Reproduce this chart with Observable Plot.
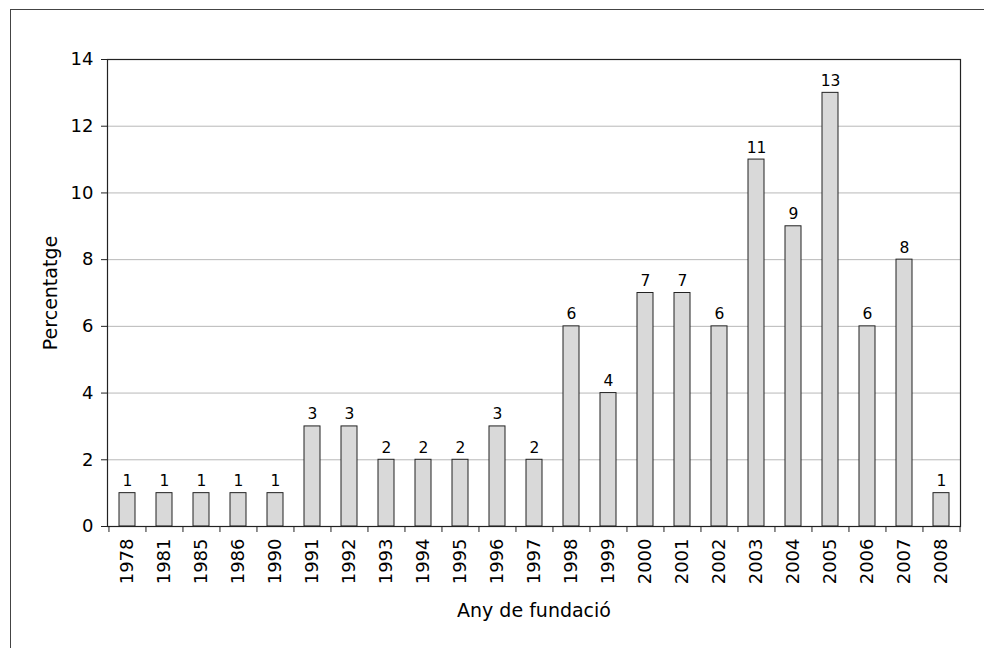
<!DOCTYPE html>
<html>
<head>
<meta charset="utf-8">
<script src="https://cdn.jsdelivr.net/npm/d3@7"></script>
<script src="https://cdn.jsdelivr.net/npm/@observablehq/plot@0.6"></script>
<style>
  html, body { margin: 0; padding: 0; background: #fff; }
  #wrap { position: relative; width: 984px; height: 648px; overflow: hidden; }
  #border { position: absolute; left: 10px; top: 9px; width: 1000px; height: 700px; border: 1.5px solid #444; pointer-events: none; }
  svg { font-family: "DejaVu Sans", sans-serif; }
</style>
</head>
<body>
<div id="wrap"><div id="border"></div><div id="chart"></div></div>
<script>
const years = ["1978","1981","1985","1986","1990","1991","1992","1993","1994","1995","1996","1997","1998","1999","2000","2001","2002","2003","2004","2005","2006","2007","2008"];
const values = [1,1,1,1,1,3,3,2,2,2,3,2,6,4,7,7,6,11,9,13,6,8,1];
const yTicks = [0,2,4,6,8,10,12,14];
const gridTicks = [2,4,6,8,10,12];
const yLabel = "Percentatge";
const xLabel = "Any de fundació";

const data = years.map((y, i) => ({year: y, value: values[i]}));

const W = 984, H = 648, mL = 107, mR = 24, mT = 59, mB = 122;
const step = (W - mL - mR) / years.length;

const chart = Plot.plot({
  width: W,
  height: H,
  marginLeft: mL,
  marginRight: mR,
  marginTop: mT,
  marginBottom: mB,
  style: {fontFamily: "DejaVu Sans, sans-serif", color: "#000", background: "transparent"},
  x: {domain: years, padding: 0.58, paddingOuter: 0.29},
  y: {domain: [0, 14]},
  marks: [
    Plot.ruleY(gridTicks, {stroke: "#b8b8b8", strokeWidth: 1}),
    Plot.barY(data, {x: "year", y: "value", fill: "#d9d9d9", stroke: "#222", strokeWidth: 1}),
    Plot.text(data, {x: "year", y: "value", text: d => String(d.value), lineAnchor: "bottom", dy: -7, fontSize: 15.5, fill: "#000"}),
    Plot.axisY({ticks: yTicks, tickSize: 6, tickPadding: 8, fontSize: 18, stroke: "#222", label: null, fill: "#000"}),
    Plot.axisX({tickSize: 0, tickRotate: -90, tickPadding: 12, fontSize: 18, label: null, fill: "#000"}),
    Plot.axisX({tickSize: 6, tickFormat: null, dx: -step / 2, stroke: "#222", label: null}),
    Plot.axisX([years[years.length - 1]], {tickSize: 6, tickFormat: null, dx: step / 2, stroke: "#222", label: null}),
    Plot.text([yLabel], {frameAnchor: "left", rotate: -90, dx: -57, textAnchor: "middle", lineAnchor: "middle", fontSize: 19, fill: "#000"}),
    Plot.text([xLabel], {frameAnchor: "bottom", dy: 84, textAnchor: "middle", lineAnchor: "middle", fontSize: 19, fill: "#000"}),
    Plot.frame({stroke: "#222", strokeWidth: 1.2})
  ]
});
document.getElementById("chart").appendChild(chart);
</script>
</body>
</html>
